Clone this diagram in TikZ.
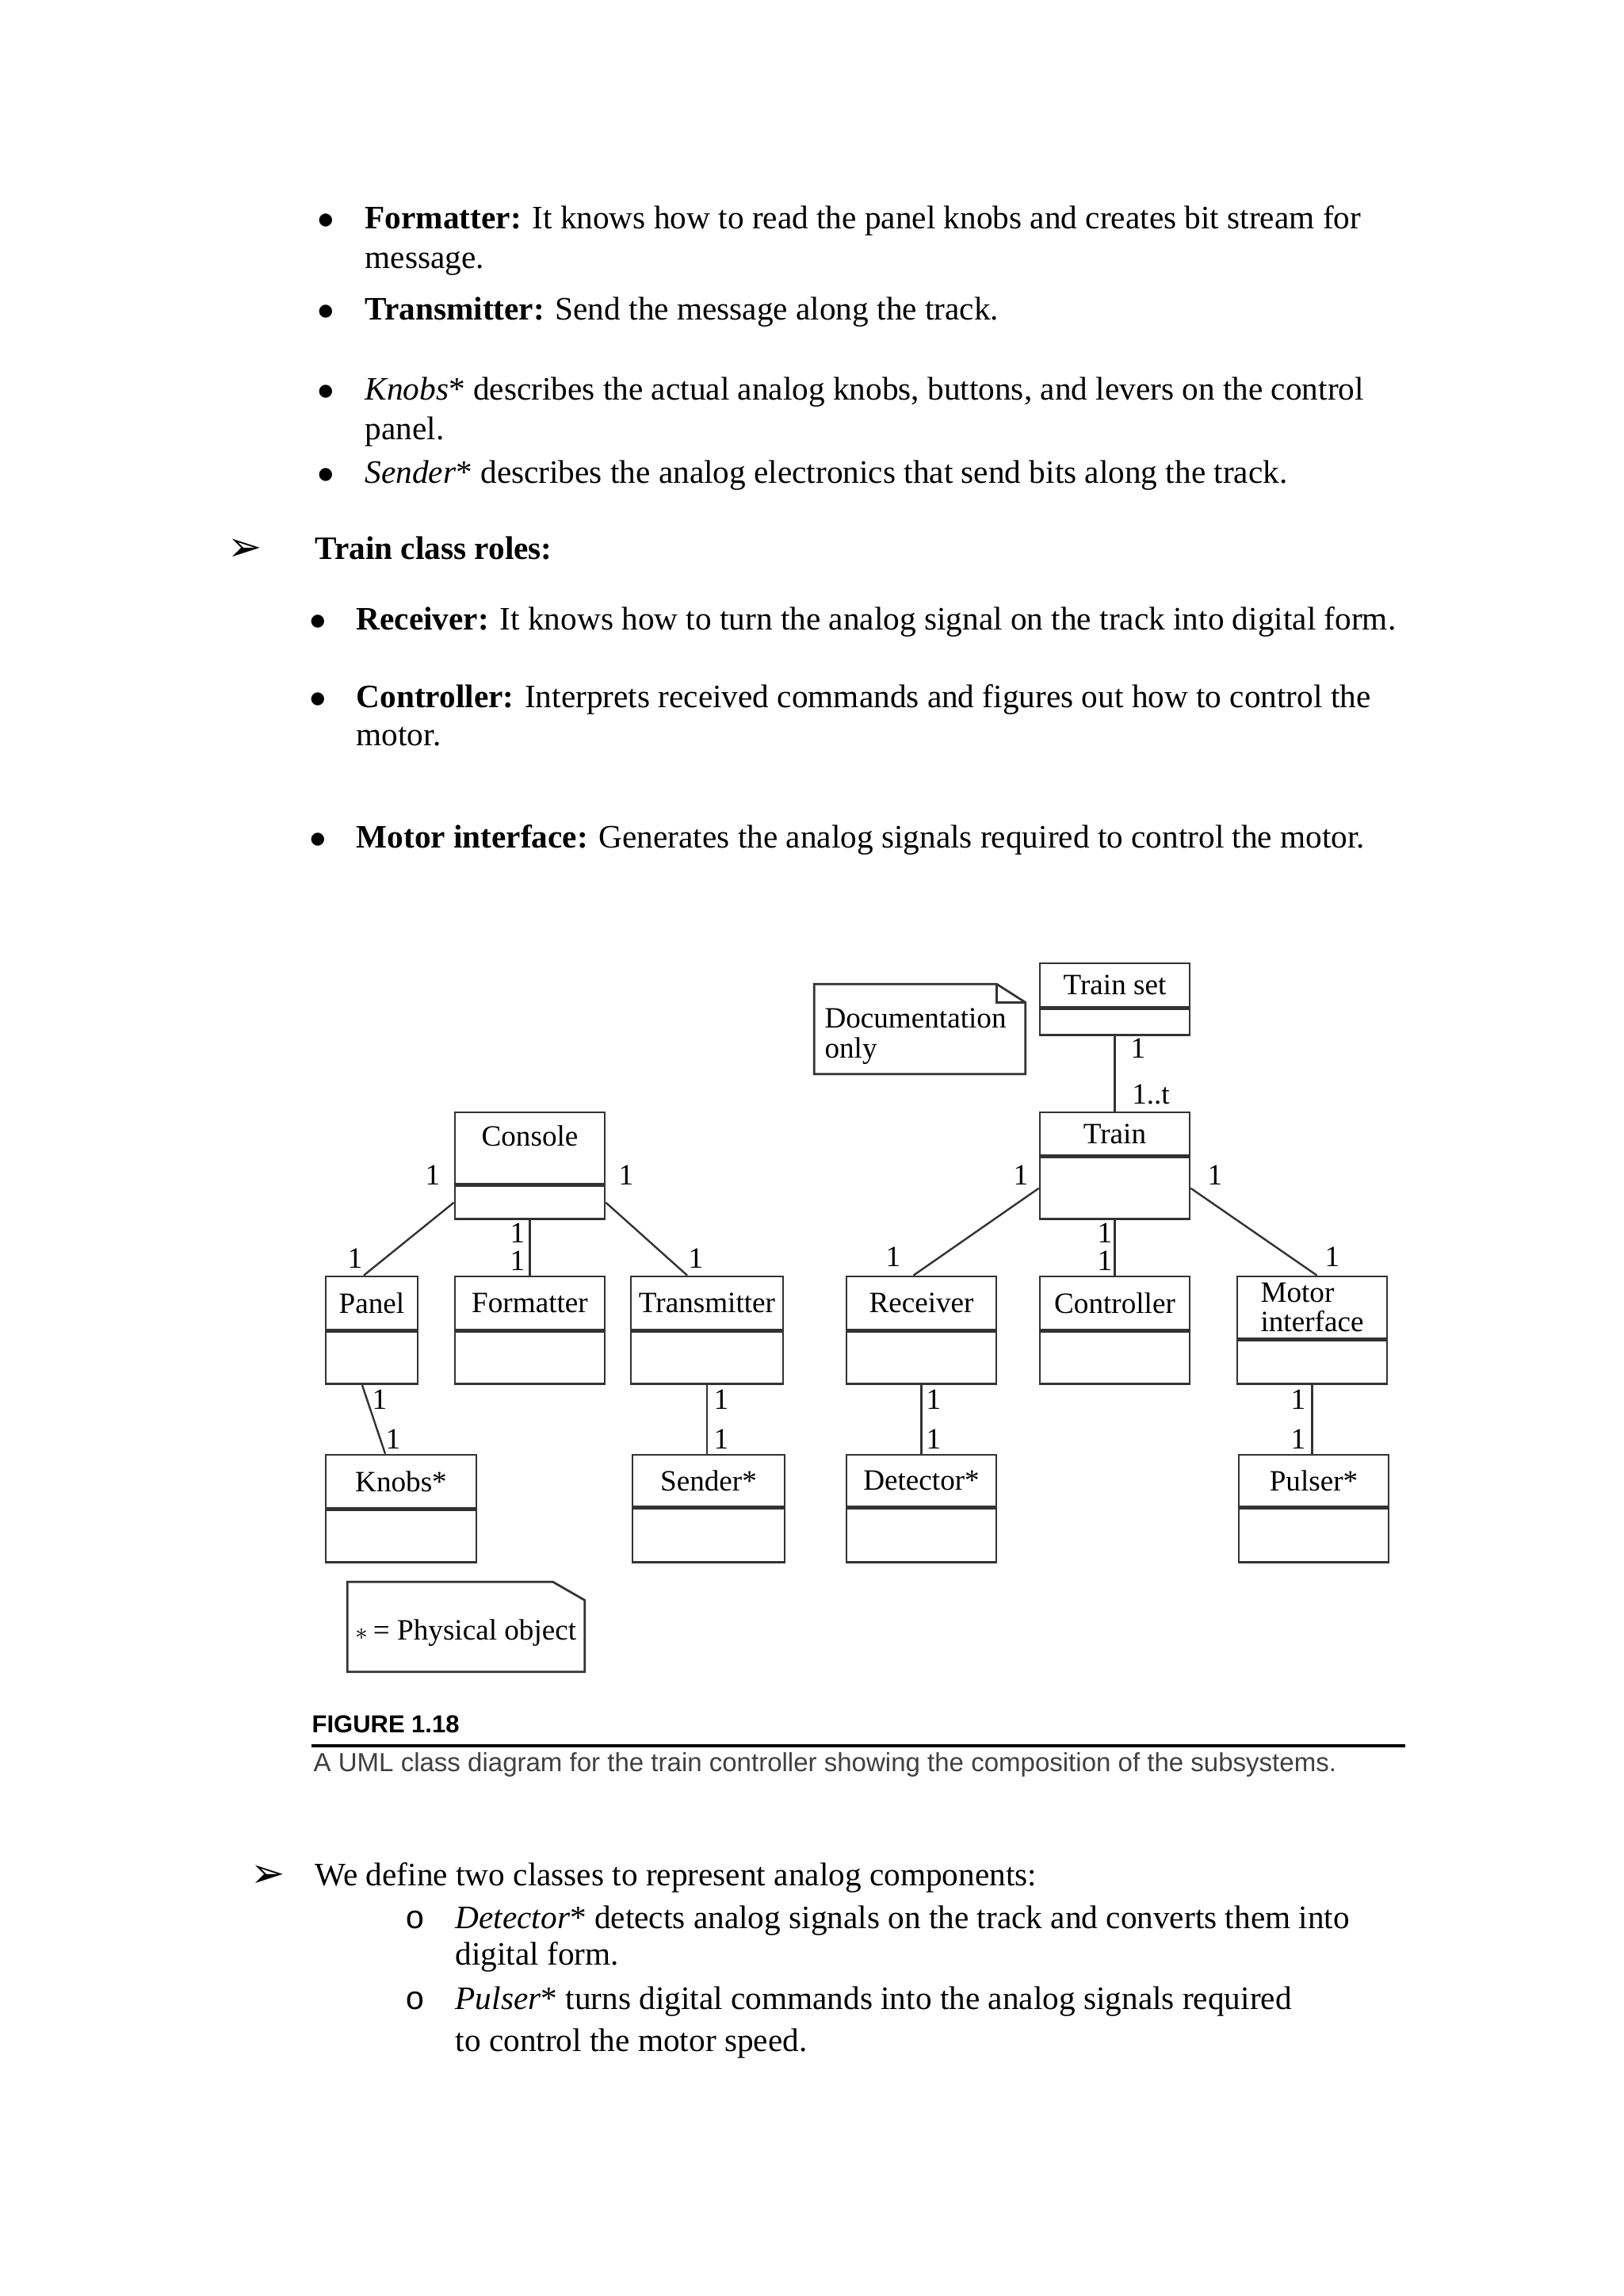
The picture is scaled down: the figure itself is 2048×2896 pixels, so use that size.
\documentclass[tikz,border=0pt]{standalone}
\usepackage{fontspec}
\setmainfont{Liberation Serif}
\newfontfamily\capfont{Liberation Sans}
\newfontfamily\dingfont{DejaVu Sans}
\newfontfamily\circfont{Liberation Mono}
\usepackage{xcolor}
\usetikzlibrary{positioning}
\definecolor{boxgrey}{HTML}{333333}
\definecolor{linegrey}{HTML}{333333}
\definecolor{capgrey}{HTML}{404040}
\newcommand{\pxu}{0.29066pt}
\newcommand{\umlfont}{\fontsize{10.8}{11}\selectfont}

\begin{document}
\begin{tikzpicture}[x=\pxu, y=-\pxu,
  para/.style={anchor=base west, inner sep=0pt, font=\fontsize{12}{14}\selectfont},
  bull/.style={anchor=base, inner sep=0pt, font=\dingfont\fontsize{6.2}{8}\selectfont},
  arrowbull/.style={anchor=base, inner sep=0pt, font=\dingfont\fontsize{15}{16}\selectfont},
  circbull/.style={anchor=base, inner sep=0pt, font=\circfont\fontsize{12}{14}\selectfont},
  cname/.style={draw=boxgrey, line width=0.8pt, inner sep=0pt, font=\umlfont, minimum width={#1*\pxu}},
  cattr/.style={draw=boxgrey, line width=0.8pt, inner sep=0pt, minimum width={#1*\pxu}},
  mult/.style={inner sep=0pt, font=\umlfont},
  assoc/.style={linegrey, line width=0.7pt},
  notebox/.style={inner sep=0pt},
  notetext/.style={inner sep=0pt, font=\umlfont, align=left},
  notedge/.style={boxgrey, line width=0.8pt},
]
\path[fill=white, use as bounding box] (0,0) rectangle (2048,2896);

% Console roles
\node[bull] (b1) at (411,283) {●};
\node[para] (t1) at (460,288) {\textbf{Formatter:} It knows how to read the panel knobs and creates bit stream for};
\node[para] (t1b) at (460,338) {message.};
\node[bull] (b2) at (411,398) {●};
\node[para] (t2) at (460,403) {\textbf{Transmitter:} Send the message along the track.};
\node[bull] (b3) at (411,499) {●};
\node[para] (t3) at (460,504) {\textit{Knobs}* describes the actual analog knobs, buttons, and levers on the control};
\node[para] (t3b) at (460,554) {panel.};
\node[bull] (b4) at (411,604) {●};
\node[para] (t4) at (460,609) {\textit{Sender}* describes the analog electronics that send bits along the track.};

% Train class roles
\node[arrowbull] (a1) at (309,707) {➢};
\node[para] (h1) at (397,705) {\textbf{Train class roles:}};
\node[bull] (b5) at (401,789) {●};
\node[para] (t5) at (449,794) {\textbf{Receiver:} It knows how to turn the analog signal on the track into digital form.};
\node[bull] (b6) at (401,887) {●};
\node[para] (t6) at (449,892) {\textbf{Controller:} Interprets received commands and figures out how to control the};
\node[para] (t6b) at (449,940) {motor.};
\node[bull] (b7) at (401,1064) {●};
\node[para] (t7) at (449,1069) {\textbf{Motor interface:} Generates the analog signals required to control the motor.};

% Train set and Train
\node[cname=189, minimum height=55*\pxu] (trainset) at (1406.5,1242.5) {Train set};
\node[cattr=189, minimum height=33*\pxu, below=0pt of trainset] (trainset-a) {};
\node[cname=189, minimum height=54*\pxu] (train) at (1406.5,1430) {Train};
\node[cattr=189, minimum height=78*\pxu, below=0pt of train] (train-a) {};

% Console
\node[cname=189, minimum height=90*\pxu, text depth=9pt] (console) at (668.5,1448) {Console};
\node[cattr=189, minimum height=42*\pxu, below=0pt of console] (console-a) {};

% second row
\node[cname=116, minimum height=67*\pxu] (panel) at (469,1643.5) {Panel};
\node[cattr=116, minimum height=66*\pxu, below=0pt of panel] (panel-a) {};
\node[cname=189, minimum height=67*\pxu] (formatter) at (668.5,1643.5) {Formatter};
\node[cattr=189, minimum height=66*\pxu, below=0pt of formatter] (formatter-a) {};
\node[cname=192, minimum height=67*\pxu] (transmitter) at (892,1643.5) {Transmitter};
\node[cattr=192, minimum height=66*\pxu, below=0pt of transmitter] (transmitter-a) {};
\node[cname=189, minimum height=67*\pxu] (receiver) at (1162.5,1643.5) {Receiver};
\node[cattr=189, minimum height=66*\pxu, below=0pt of receiver] (receiver-a) {};
\node[cname=189, minimum height=67*\pxu] (controller) at (1406.5,1643.5) {Controller};
\node[cattr=189, minimum height=66*\pxu, below=0pt of controller] (controller-a) {};
\node[cname=189, minimum height=78*\pxu, align=left] (motor) at (1655.5,1649) {Motor\\interface};
\node[cattr=189, minimum height=55*\pxu, below=0pt of motor] (motor-a) {};

% physical objects
\node[cname=190, minimum height=67*\pxu] (knobs) at (506,1868.5) {Knobs*};
\node[cattr=190, minimum height=66*\pxu, below=0pt of knobs] (knobs-a) {};
\node[cname=192, minimum height=65*\pxu] (sender) at (894,1867.5) {Sender*};
\node[cattr=192, minimum height=68*\pxu, below=0pt of sender] (sender-a) {};
\node[cname=189, minimum height=65*\pxu] (detector) at (1162.5,1867.5) {Detector*};
\node[cattr=189, minimum height=68*\pxu, below=0pt of detector] (detector-a) {};
\node[cname=189, minimum height=65*\pxu] (pulser) at (1657.5,1867.5) {Pulser*};
\node[cattr=189, minimum height=68*\pxu, below=0pt of pulser] (pulser-a) {};

% associations
\draw[assoc] (trainset-a.south) -- (train.north);
\draw[assoc] (train-a.west) -- ([xshift={-10*\pxu}]receiver.north);
\draw[assoc] (train-a.south) -- (controller.north);
\draw[assoc] (train-a.east) -- ([xshift={6*\pxu}]motor.north);
\draw[assoc] (console-a.west) -- ([xshift={-10*\pxu}]panel.north);
\draw[assoc] (console-a.south) -- (formatter.north);
\draw[assoc] (console-a.east) -- ([xshift={-25*\pxu}]transmitter.north);
\draw[assoc] ([xshift={-12*\pxu}]panel-a.south) -- ([xshift={-20*\pxu}]knobs.north);
\draw[assoc] (transmitter-a.south) -- (transmitter-a.south |- sender.north);
\draw[assoc] (receiver-a.south) -- (detector.north);
\draw[assoc] (motor-a.south) -- (motor-a.south |- pulser.north);

% multiplicities
\node[mult] (m1) at (1436,1322) {1};
\node[mult] (m2) at (1452,1380) {1..t};
\node[mult] (m3) at (1288,1482) {1};
\node[mult] (m4) at (1533,1482) {1};
\node[mult] (m5) at (1127,1585) {1};
\node[mult] (m6) at (1394,1555) {1};
\node[mult] (m7) at (1394,1590) {1};
\node[mult] (m8) at (1681,1585) {1};
\node[mult] (m9) at (1178,1765) {1};
\node[mult] (m10) at (1178,1815) {1};
\node[mult] (m11) at (1638,1765) {1};
\node[mult] (m12) at (1638,1815) {1};
\node[mult] (m13) at (546,1482) {1};
\node[mult] (m14) at (790,1482) {1};
\node[mult] (m15) at (653,1555) {1};
\node[mult] (m16) at (653,1590) {1};
\node[mult] (m17) at (448,1587) {1};
\node[mult] (m18) at (878,1587) {1};
\node[mult] (m19) at (479,1765) {1};
\node[mult] (m20) at (496,1815) {1};
\node[mult] (m21) at (910,1765) {1};
\node[mult] (m22) at (910,1815) {1};

% notes
\node[notebox, minimum width=265*\pxu, minimum height=112*\pxu] (docnote) at (1160.5,1298) {};
\node[notetext, text width=240*\pxu] (doctext) at (1160.5,1307) {Documentation\\only};
\draw[notedge] (docnote.south west) -- (docnote.north west) -- ([xshift={-36*\pxu}]docnote.north east)
  -- ([yshift={-23*\pxu}]docnote.north east) -- (docnote.south east) -- cycle;
\draw[notedge] ([xshift={-36*\pxu}]docnote.north east) |- ([yshift={-23*\pxu}]docnote.north east);

\node[notebox, minimum width=298*\pxu, minimum height=112*\pxu] (physnote) at (588,2052) {};
\node[notetext] (phystext) at (588,2060) {{\small$\ast$}\,= Physical object};
\draw[notedge] (physnote.south west) -- (physnote.north west) -- ([xshift={-40*\pxu}]physnote.north east)
  -- ([yshift={-23*\pxu}]physnote.north east) -- (physnote.south east) -- cycle;

% caption
\node[anchor=base west, inner sep=0pt, font=\capfont\bfseries\fontsize{9}{11}\selectfont] (figno) at (393,2185) {FIGURE 1.18};
\draw[line width=1pt] (393,2202) -- (1773,2202);
\node[anchor=base west, inner sep=0pt, font=\capfont\fontsize{9.6}{11}\selectfont, text=capgrey] (figcap) at (395,2234) {A UML class diagram for the train controller showing the composition of the subsystems.};

% analog components
\node[arrowbull] (a2) at (338,2380) {➢};
\node[para] (t8) at (397,2378) {We define two classes to represent analog components:};
\node[circbull] (c1) at (524,2432) {o};
\node[para] (t9) at (574,2432) {\textit{Detector}* detects analog signals on the track and converts them into};
\node[para] (t9b) at (574,2478) {digital form.};
\node[circbull] (c2) at (524,2534) {o};
\node[para] (t10) at (574,2534) {\textit{Pulser}* turns digital commands into the analog signals required};
\node[para] (t10b) at (574,2587) {to control the motor speed.};
\end{tikzpicture}
\end{document}
